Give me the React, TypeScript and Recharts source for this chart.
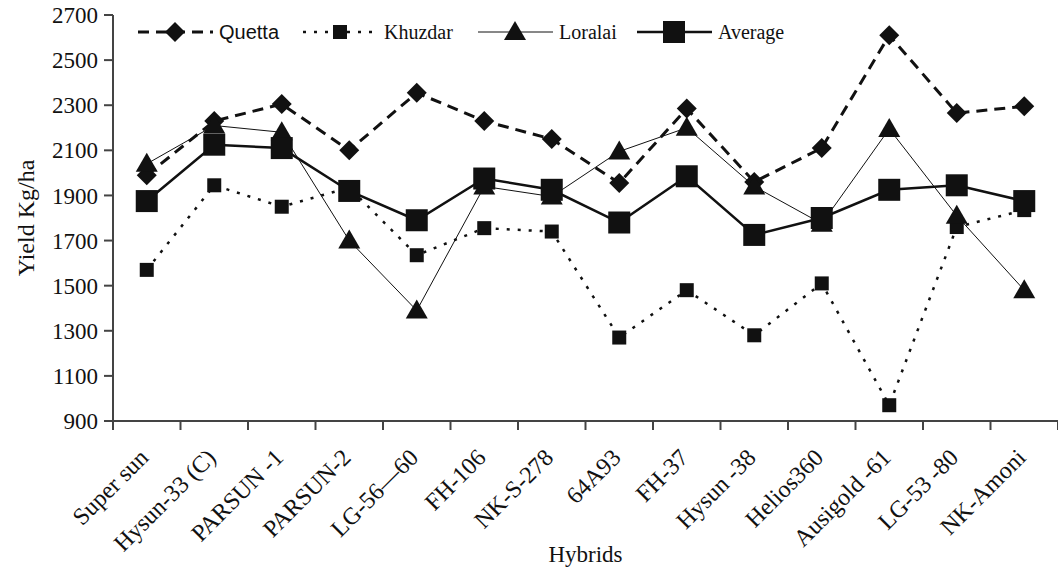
import React from 'react';
import { LineChart, Line, XAxis, YAxis, Legend } from 'recharts';

const hybrids = [
  'Super sun', 'Hysun-33 (C)', 'PARSUN -1', 'PARSUN-2', 'LG-56\u201460', 'FH-106', 'NK-S-278',
  '64A93', 'FH-37', 'Hysun -38', 'Helios360', 'Ausigold -61', 'LG-53 -80', 'NK-Amoni',
];
const quetta = [1990, 2230, 2305, 2100, 2355, 2230, 2150, 1955, 2285, 1960, 2110, 2610, 2265, 2295];
const khuzdar = [1570, 1945, 1850, 1935, 1635, 1755, 1740, 1270, 1480, 1280, 1510, 970, 1760, 1835];
const loralai = [2040, 2210, 2180, 1700, 1390, 1940, 1895, 2095, 2200, 1940, 1775, 2195, 1810, 1480];
const average = [1875, 2125, 2110, 1920, 1790, 1975, 1925, 1780, 1985, 1725, 1800, 1925, 1945, 1875];
const yTicks = [900, 1100, 1300, 1500, 1700, 1900, 2100, 2300, 2500, 2700];

const data = hybrids.map((name, i) => ({
  name,
  Quetta: quetta[i],
  Khuzdar: khuzdar[i],
  Loralai: loralai[i],
  Average: average[i],
}));

const W = 1058;
const H = 571;
const Y_AXIS_W = 113;
const BAND = (W - Y_AXIS_W) / hybrids.length;
const INK = '#111';
const SERIF = '"Liberation Serif", "Times New Roman", serif';

type Marker = 'diamond' | 'smallSquare' | 'triangle' | 'bigSquare';

const drawMarker = (kind: Marker, cx: number, cy: number, key?: string) => {
  if (kind === 'diamond') {
    const r = 10;
    return <polygon key={key} points={`${cx},${cy - r} ${cx + r},${cy} ${cx},${cy + r} ${cx - r},${cy}`} fill={INK} />;
  }
  if (kind === 'triangle') {
    return <polygon key={key} points={`${cx},${cy - 11} ${cx + 11},${cy + 8} ${cx - 11},${cy + 8}`} fill={INK} />;
  }
  const s = kind === 'bigSquare' ? 22 : 14;
  return <rect key={key} x={cx - s / 2} y={cy - s / 2} width={s} height={s} fill={INK} />;
};

const series = [
  { key: 'Quetta', marker: 'diamond' as Marker, width: 3, dash: '11 7' },
  { key: 'Khuzdar', marker: 'smallSquare' as Marker, width: 2.5, dash: '3 8' },
  { key: 'Loralai', marker: 'triangle' as Marker, width: 1, dash: undefined },
  { key: 'Average', marker: 'bigSquare' as Marker, width: 2.5, dash: undefined },
];

const legendX = [0, 165, 340, 499];

const LegendContent = () => (
  <svg width={680} height={34}>
    {series.map((s, i) => {
      const x0 = legendX[i];
      return (
        <g key={s.key}>
          <line x1={x0} x2={x0 + 75} y1={16} y2={16} stroke={INK} strokeWidth={s.width} strokeDasharray={s.dash} />
          {drawMarker(s.marker, x0 + 37, 16)}
          <text
            x={x0 + 81}
            y={23}
            fill={INK}
            fontSize={20}
            style={{
              fontFamily: s.key === 'Quetta' ? '"Liberation Sans Narrow", "Liberation Sans", sans-serif' : SERIF,
            }}
          >
            {s.key}
          </text>
        </g>
      );
    })}
  </svg>
);

const XTick = (props: any) => {
  const { x, y, payload, index } = props;
  const half = BAND / 2;
  const tx = x + 3;
  const ty = y + 38;
  return (
    <g>
      <line x1={x - half} x2={x - half} y1={y} y2={y + 9} stroke="#444" strokeWidth={2} />
      {index === hybrids.length - 1 && (
        <line x1={x + half} x2={x + half} y1={y} y2={y + 9} stroke="#444" strokeWidth={2} />
      )}
      <text
        x={tx}
        y={ty}
        transform={`rotate(-45, ${tx}, ${ty})`}
        textAnchor="end"
        fill={INK}
        fontSize={24}
        style={{ fontFamily: SERIF }}
      >
        {payload.value}
      </text>
    </g>
  );
};

export default function App() {
  return (
    <div style={{ position: 'absolute', left: 0, top: 0, background: '#fff', fontFamily: SERIF }}>
      <LineChart width={W} height={H} data={data} margin={{ top: 15, right: 0, bottom: 0, left: 0 }}>
        <XAxis
          dataKey="name"
          height={150}
          padding={{ left: BAND / 2, right: BAND / 2 }}
          axisLine={{ stroke: '#444', strokeWidth: 2 }}
          tickLine={false}
          tickSize={0}
          tickMargin={0}
          interval={0}
          tick={<XTick />}
          label={{
            value: 'Hybrids',
            position: 'insideBottom',
            offset: 9,
            style: { fill: INK, fontSize: 23, fontFamily: SERIF },
          }}
        />
        <YAxis
          width={Y_AXIS_W}
          domain={[900, 2700]}
          ticks={yTicks}
          interval={0}
          axisLine={{ stroke: '#444', strokeWidth: 2 }}
          tickLine={{ stroke: '#444', strokeWidth: 2 }}
          tickSize={9}
          tickMargin={6}
          tick={{ fill: INK, fontSize: 23, style: { fontFamily: SERIF } }}
          label={{
            value: 'Yield Kg/ha',
            angle: -90,
            position: 'insideLeft',
            offset: 25,
            style: { textAnchor: 'middle', fill: INK, fontSize: 24, fontFamily: SERIF },
          }}
        />
        <Legend
          layout="horizontal"
          verticalAlign="middle"
          align="center"
          content={<LegendContent />}
          wrapperStyle={{ top: 16, left: 138, width: 680, height: 34 }}
        />
        {series.map((s) => (
          <Line
            key={s.key}
            dataKey={s.key}
            stroke={INK}
            strokeWidth={s.width}
            strokeDasharray={s.dash}
            isAnimationActive={false}
            activeDot={false}
            dot={(p: any) => drawMarker(s.marker, p.cx, p.cy, `${s.key}-${p.index}`)}
          />
        ))}
      </LineChart>
    </div>
  );
}
